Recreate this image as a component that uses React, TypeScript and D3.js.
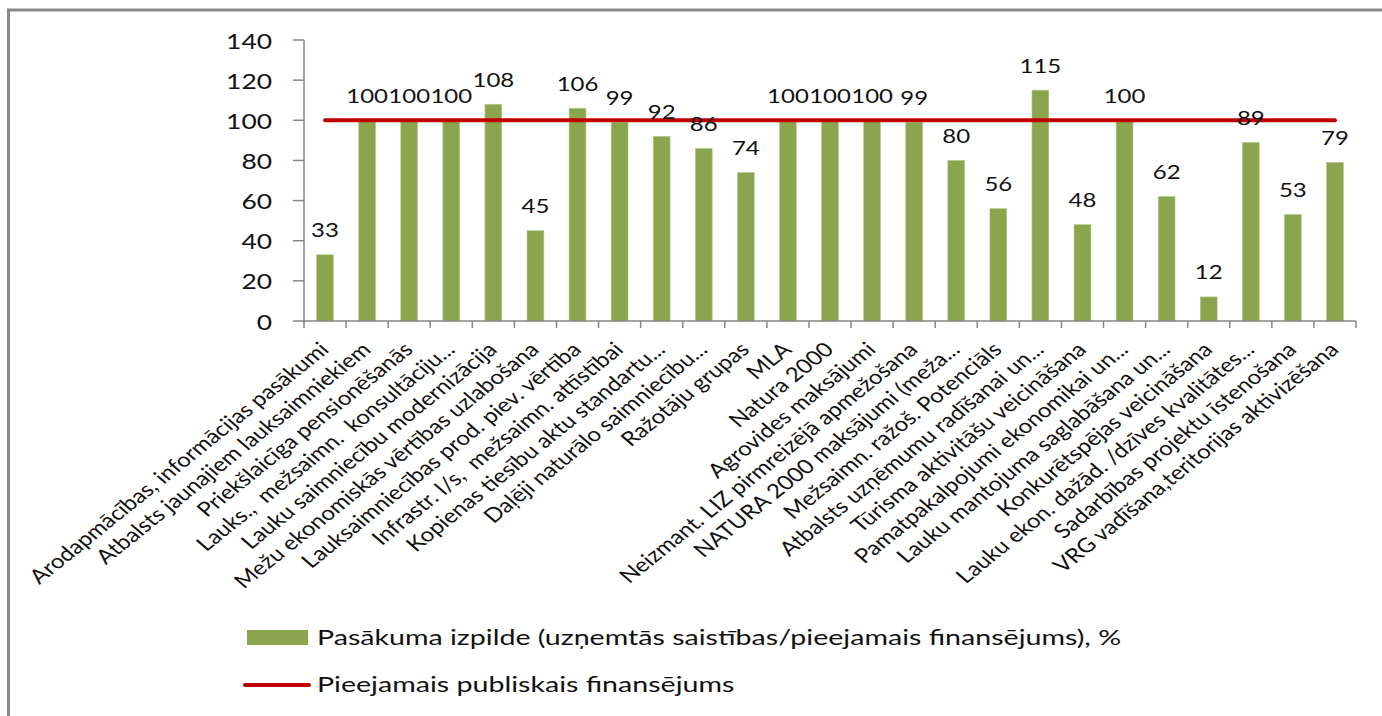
import React from "react";
import * as d3 from "d3";

const categories = [
  "Arodapmācības, informācijas pasākumi",
  "Atbalsts jaunajiem lauksaimniekiem",
  "Priekšlaicīga pensionēšanās",
  "Lauks.,  mežsaimn.  konsultāciju...",
  "Lauku saimniecību modernizācija",
  "Mežu ekonomiskās vērtības uzlabošana",
  "Lauksaimniecības prod. piev. vērtība",
  "Infrastr. l/s,  mežsaimn. attīstībai",
  "Kopienas tiesību aktu standartu...",
  "Daļēji naturālo saimniecību...",
  "Ražotāju grupas",
  "MLA",
  "Natura 2000",
  "Agrovides maksājumi",
  "Neizmant. LIZ pirmreizējā apmežošana",
  "NATURA 2000 maksājumi (meža...",
  "Mežsaimn. ražoš. Potenciāls",
  "Atbalsts uzņēmumu radīšanai un...",
  "Tūrisma aktivitāšu veicināšana",
  "Pamatpakalpojumi ekonomikai un...",
  "Lauku mantojuma saglabāšana un...",
  "Konkurētspējas veicināšana",
  "Lauku ekon. dažād. /dzīves kvalitātes...",
  "Sadarbības projektu īstenošana",
  "VRG vadīšana,teritorijas aktivizēšana",
];

const execution = [33, 100, 100, 100, 108, 45, 106, 99, 92, 86, 74, 100, 100, 100, 99, 80, 56, 115, 48, 100, 62, 12, 89, 53, 79];

const publicFunding = [100, 100, 100, 100, 100, 100, 100, 100, 100, 100, 100, 100, 100, 100, 100, 100, 100, 100, 100, 100, 100, 100, 100, 100, 100];

const yTicks = [0, 20, 40, 60, 80, 100, 120, 140];

const seriesNames = [
  "Pasākuma izpilde (uzņemtās saistības/pieejamais finansējums), %",
  "Pieejamais publiskais finansējums",
];

const W = 1382;
const H = 716;
const SX = 1.2;
const SXL = 1.3;
const FONT = "Lato, 'Open Sans', sans-serif";
const BAR = "#8BA54F";
const RED = "#C00000";
const AXIS = "#868686";

export default function App() {
  const x = d3
    .scaleBand<string>()
    .domain(categories)
    .range([304, 1356])
    .paddingInner(0.6)
    .paddingOuter(0.3);
  const y = d3.scaleLinear().domain([0, 140]).range([321, 40]);
  const step = x.step();
  const bw = x.bandwidth();
  const cx = (c: string) => (x(c) as number) + bw / 2;

  const line = d3
    .line<number>()
    .x((_, i) => cx(categories[i]))
    .y((d) => y(d));

  const boundaries = d3.range(categories.length + 1).map((i) => 304 + i * step);

  return (
    <svg
      width={W}
      height={H}
      style={{ position: "absolute", left: 0, top: 0, background: "#fff" }}
      fontFamily={FONT}
    >
      <rect x={0} y={0} width={W} height={H} fill="#fff" />
      <path d={`M8.5,${H} L8.5,10 L${W},10`} fill="none" stroke="#888" strokeWidth={3} />

      {/* y axis */}
      <line x1={304} x2={304} y1={y(140)} y2={y(0)} stroke={AXIS} strokeWidth={1.5} />
      {yTicks.map((t) => (
        <g key={t}>
          <line x1={293} x2={304} y1={y(t)} y2={y(t)} stroke={AXIS} strokeWidth={1.5} />
          <text
            transform={`translate(272,${y(t)}) scale(${SX},1)`}
            textAnchor="end"
            dominantBaseline="central"
            fontSize={22}
            fill="#111"
          >
            {t}
          </text>
        </g>
      ))}

      {/* bars */}
      {execution.map((v, i) => (
        <rect
          key={i}
          x={x(categories[i])}
          y={y(v)}
          width={bw}
          height={y(0) - y(v)}
          fill={BAR}
          stroke="#b5c98a"
          strokeWidth={0.6}
        />
      ))}

      {/* x axis */}
      <line x1={304} x2={1356} y1={y(0)} y2={y(0)} stroke={AXIS} strokeWidth={1.5} />
      {boundaries.map((b, i) => (
        <line key={i} x1={b} x2={b} y1={y(0)} y2={y(0) + 7} stroke={AXIS} strokeWidth={1.5} />
      ))}

      {/* red line */}
      <path d={line(publicFunding) || ""} fill="none" stroke={RED} strokeWidth={4} strokeLinecap="round" />

      {/* data labels */}
      {execution.map((v, i) => (
        <text
          key={i}
          transform={`translate(${cx(categories[i])},${y(v) - 17.5}) scale(${SX},1)`}
          textAnchor="middle"
          fontSize={20}
          fill="#111"
        >
          {v}
        </text>
      ))}

      {/* category labels */}
      {categories.map((c) => (
        <text
          key={c}
          transform={`translate(${cx(c) + 5},351) scale(${SX},1) rotate(-44)`}
          textAnchor="end"
          fontSize={20}
          fill="#111"
          style={{ whiteSpace: "pre" }}
        >
          {c}
        </text>
      ))}

      {/* legend */}
      <rect x={247} y={630} width={61} height={15} fill={BAR} />
      <text transform={`translate(317,645) scale(${SXL},1)`} fontSize={22} fill="#111">
        {seriesNames[0]}
      </text>
      <line x1={245} x2={309} y1={685} y2={685} stroke={RED} strokeWidth={4} strokeLinecap="round" />
      <text transform={`translate(317,692) scale(${SXL},1)`} fontSize={22} fill="#111">
        {seriesNames[1]}
      </text>
    </svg>
  );
}
